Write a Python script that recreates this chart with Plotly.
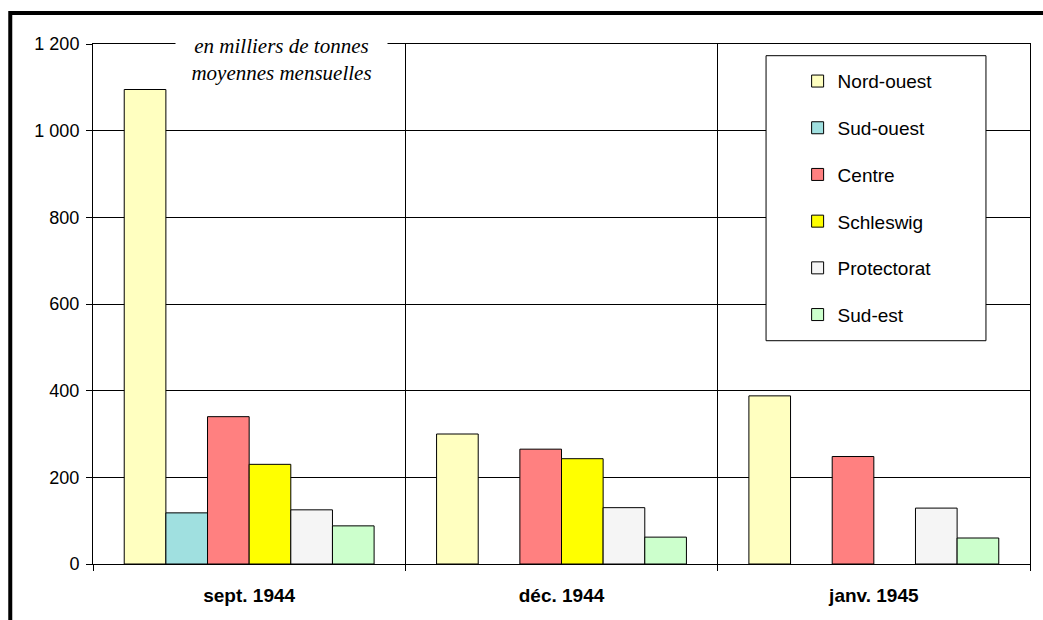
import plotly.graph_objects as go

# Monthly averages, thousands of tonnes
periods = ["sept. 1944", "déc. 1944", "janv. 1945"]
regions = ["Nord-ouest", "Sud-ouest", "Centre", "Schleswig", "Protectorat", "Sud-est"]
nord_ouest = [1095, 300, 388]
sud_ouest = [118, None, None]
centre = [340, 265, 248]
schleswig = [230, 243, None]
protectorat = [125, 130, 129]
sud_est = [88, 62, 60]

y_ticks = [0, 200, 400, 600, 800, 1000, 1200]
y_tick_text = ["0", "200", "400", "600", "800", "1 000", "1 200"]

series = [nord_ouest, sud_ouest, centre, schleswig, protectorat, sud_est]
colors = ["#FFFFC0", "#A0E0E0", "#FF8080", "#FFFF00", "#F5F5F5", "#CCFFCC"]

fig = go.Figure()
for name, vals, col in zip(regions, series, colors):
    fig.add_trace(go.Bar(
        x=periods, y=vals, name=name, legendgroup=name,
        marker=dict(color=col, line=dict(color="#000000", width=1)),
    ))

sans = "Liberation Sans, Arial, sans-serif"

fig.update_layout(
    width=1043, height=620,
    margin=dict(l=93, r=13, t=44, b=56),
    paper_bgcolor="white", plot_bgcolor="white",
    barmode="group", bargap=0.2, bargroupgap=0,
    font=dict(family=sans, color="#000000"),
    showlegend=True,
    legend=dict(
        x=0.752, y=0.965, xanchor="left", yanchor="top",
        bgcolor="rgba(0,0,0,0)", borderwidth=0,
        font=dict(family=sans, size=19, color="#000000"),
        traceorder="grouped", tracegroupgap=19,
    ),
    xaxis=dict(
        type="category", tickson="boundaries",
        showgrid=True, gridcolor="#000000", gridwidth=1,
        showline=True, linecolor="#000000", linewidth=1, mirror=True,
        ticks="outside", ticklen=6, tickcolor="#000000",
        tickfont=dict(family=sans, size=19, weight="bold"),
        ticklabelstandoff=14,
        range=[-0.5, 2.5],
    ),
    yaxis=dict(
        range=[0, 1200], tickvals=y_ticks, ticktext=y_tick_text,
        showgrid=True, gridcolor="#000000", gridwidth=1,
        showline=True, linecolor="#000000", linewidth=1, mirror=True,
        ticks="outside", ticklen=6, tickcolor="#000000",
        tickfont=dict(family=sans, size=18),
        ticklabelstandoff=3,
        zeroline=False,
    ),
    shapes=[
        # legend frame
        dict(type="rect", xref="paper", yref="paper",
             x0=0.7183, x1=0.9530, y0=0.4294, y1=0.9775,
             line=dict(color="#000000", width=1), fillcolor="white",
             layer="above"),
        # outer page frame
        dict(type="rect", xref="paper", yref="paper",
             x0=-0.0883, x1=1.2, y0=-0.4, y1=1.0596,
             line=dict(color="#000000", width=4), fillcolor="rgba(0,0,0,0)",
             layer="above"),
    ],
    annotations=[
        dict(xref="paper", yref="paper", x=(281 - 93) / 937, y=(564 - 59.5) / 520,
             xanchor="center", yanchor="middle", showarrow=False,
             text="en milliers de tonnes<br>moyennes mensuelles",
             font=dict(family="Liberation Serif, Times New Roman, serif", size=21,
                       style="italic", color="#000000"),
             bgcolor="white", width=209, borderpad=1, align="center"),
    ],
)

fig.write_html("out.html")
